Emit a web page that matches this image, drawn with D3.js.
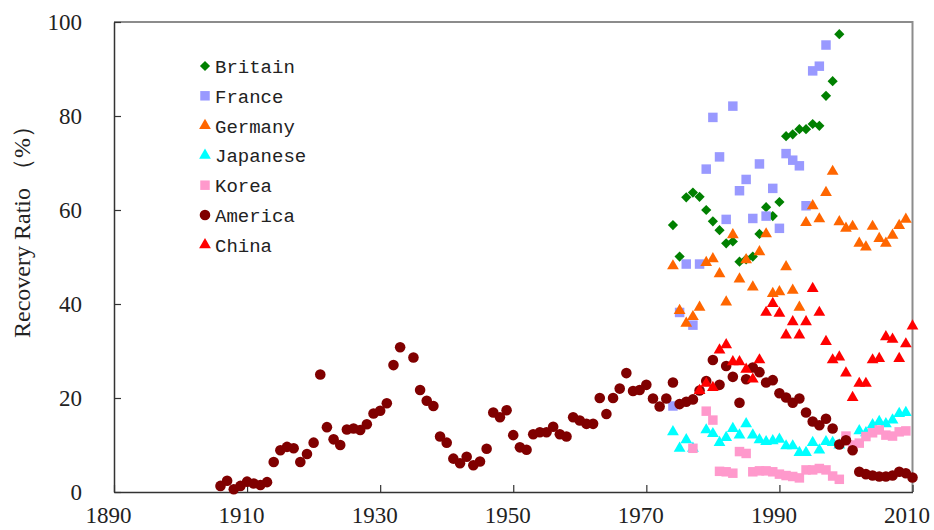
<!DOCTYPE html>
<html>
<head>
<meta charset="utf-8">
<script src="https://cdn.jsdelivr.net/npm/d3@7"></script>
<style>
  body { margin: 0; background: #fff; }
  svg { display: block; }
</style>
</head>
<body>
<svg id="chart" width="934" height="530"></svg>
<script>
// years and values, one pair of arrays per country
var britainYears = [1974,1975,1976,1977,1978,1979,1980,1981,1982,1983,1984,1985,1986,1987,1988,1989,1990,1991,1992,1993,1994,1995,1996,1997,1998,1999];
var britainVals  = [56.8,50.1,62.7,63.7,62.8,60.0,57.6,55.7,52.9,53.3,49.0,49.5,50.1,54.9,60.6,58.7,61.7,75.7,76.1,77.2,77.2,78.3,77.9,84.3,87.4,97.4];

var franceYears = [1974,1975,1976,1977,1978,1979,1980,1981,1982,1983,1984,1985,1986,1987,1988,1989,1990,1991,1992,1993,1994,1995,1996,1997];
var franceVals  = [18.3,38.2,48.5,35.5,48.5,68.7,79.7,71.3,58.0,82.1,64.1,66.5,58.2,69.8,58.7,64.6,56.1,72.0,70.6,69.4,60.9,89.6,90.6,95.1];

var germanyYears = [1974,1975,1976,1977,1978,1979,1980,1981,1982,1983,1984,1985,1986,1987,1988,1989,1990,1991,1992,1993,1994,1995,1996,1997,1998,1999,2000,2001,2002,2003,2004,2005,2006,2007,2008,2009];
var germanyVals  = [48.1,38.6,35.9,37.3,39.3,48.8,49.6,46.4,40.4,54.7,45.3,49.4,43.6,51.1,54.9,42.2,42.6,47.9,42.9,39.3,57.3,60.9,58.1,63.7,68.2,57.5,56.1,56.5,52.9,52.1,56.5,53.9,52.9,54.6,56.7,58.0];

var japanYears = [1974,1975,1976,1977,1979,1980,1981,1982,1983,1984,1985,1986,1987,1988,1989,1990,1991,1992,1993,1994,1995,1996,1997,1998,1999,2002,2003,2004,2005,2006,2007,2008,2009];
var japanVals  = [12.8,9.3,11.1,9.3,13.2,12.4,10.5,11.6,13.5,12.1,14.5,12.1,11.1,10.7,10.9,11.2,9.8,9.8,8.4,8.4,10.5,8.9,10.7,10.5,10.0,13.0,12.6,14.3,15.0,14.5,15.3,16.7,16.9];

var koreaYears = [1977,1979,1980,1981,1982,1983,1984,1985,1986,1987,1988,1989,1990,1991,1992,1993,1994,1995,1996,1997,1998,1999,2000,2001,2002,2003,2004,2005,2006,2007,2008,2009];
var koreaVals  = [9.3,17.2,15.3,4.4,4.3,4.0,8.6,8.2,4.3,4.5,4.5,4.3,3.8,3.5,3.3,3.0,4.7,4.7,5.0,4.7,3.4,2.7,11.9,10.0,10.4,11.8,12.6,13.2,12.1,11.9,12.8,13.0];

var americaYears = [1906,1907,1908,1909,1910,1911,1912,1913,1914,1915,1916,1917,1918,1919,1920,1921,1922,1923,1924,1925,1926,1927,1928,1929,1930,1931,1932,1933,1935,1936,1937,1938,1939,1940,1941,1942,1943,1944,1945,1946,1947,1948,1949,1950,1951,1952,1953,1954,1955,1956,1957,1958,1959,1960,1961,1962,1963,1964,1965,1966,1967,1968,1969,1970,1971,1972,1973,1974,1975,1976,1977,1978,1979,1980,1981,1982,1983,1984,1985,1986,1987,1988,1989,1990,1991,1992,1993,1994,1995,1996,1997,1998,1999,2000,2001,2002,2003,2004,2005,2006,2007,2008,2009,2010];
var americaVals  = [1.3,2.4,0.6,1.3,2.2,1.8,1.5,2.1,6.4,8.9,9.6,9.3,6.4,8.1,10.5,25.0,13.8,11.2,10.0,13.3,13.5,13.2,14.4,16.7,17.3,18.9,27.0,30.8,28.6,21.7,19.4,18.3,11.8,10.5,7.1,6.1,7.5,5.7,6.5,9.2,16.9,15.9,17.4,12.1,9.5,9.0,12.3,12.7,12.7,13.9,12.3,11.8,15.9,15.2,14.5,14.5,20.0,16.6,20.0,22.0,25.3,21.5,21.7,22.8,19.9,18.2,19.9,23.3,18.7,19.2,19.7,21.6,23.6,28.1,22.8,26.8,24.5,19.0,24.0,26.5,25.5,23.3,23.8,21.0,20.1,19.0,19.9,16.9,15.0,14.2,15.6,13.5,10.1,11.0,8.9,4.3,3.8,3.5,3.3,3.3,3.5,4.3,4.0,3.1];

var chinaYears = [1978,1979,1980,1981,1982,1983,1984,1985,1986,1987,1988,1989,1990,1991,1992,1993,1994,1995,1996,1997,1998,1999,2000,2001,2002,2003,2004,2005,2006,2007,2008,2009,2010];
var chinaVals  = [21.6,23.1,22.2,30.2,31.3,27.7,27.7,26.1,24.0,28.1,38.2,40.1,38.0,33.4,36.2,33.4,36.2,43.3,38.2,32.0,28.1,28.7,25.3,20.1,23.1,23.1,28.1,28.4,33.0,32.5,28.4,31.5,35.3];

var xTicks = [1890,1910,1930,1950,1970,1990,2010];
var yTicks = [0,20,40,60,80,100];

var series = [
    { name: "Britain",  years: britainYears, vals: britainVals, shape: "diamond",  color: "#008000" },
    { name: "France",   years: franceYears,  vals: franceVals,  shape: "square",   color: "#9999ff" },
    { name: "Germany",  years: germanyYears, vals: germanyVals, shape: "triangle", color: "#ff6600" },
    { name: "Japanese", years: japanYears,   vals: japanVals,   shape: "triangle", color: "#00ffff" },
    { name: "Korea",    years: koreaYears,   vals: koreaVals,   shape: "square",   color: "#ff99cc" },
    { name: "America",  years: americaYears, vals: americaVals, shape: "circle",   color: "#800000" },
    { name: "China",    years: chinaYears,   vals: chinaVals,   shape: "triangle", color: "#ff0000" }
];

var svg = d3.select("#chart");
var plotLeft = 114, plotRight = 912.5, plotTop = 22, plotBottom = 492;

var x = d3.scaleLinear().domain([1890, 2010]).range([plotLeft, plotRight]);
var y = d3.scaleLinear().domain([0, 100]).range([plotBottom, plotTop]);

function symbolFor(shape) {
    if (shape == "diamond") return d3.symbol().type(d3.symbolSquare).size(52)();
    if (shape == "square") return d3.symbol().type(d3.symbolSquare).size(90)();
    if (shape == "triangle") return d3.symbol().type(d3.symbolTriangle).size(60)();
    return d3.symbol().type(d3.symbolCircle).size(88)();
}
function rot(shape) { return shape == "diamond" ? " rotate(45)" : ""; }

// plot frame: grey on top and right, dark axes on left and bottom
svg.append("path")
    .attr("d", "M" + plotLeft + "," + plotTop + "H" + plotRight + "V" + plotBottom)
    .attr("fill", "none")
    .attr("stroke", "#8c8c8c")
    .attr("stroke-width", 2);

var tickFont = "'Liberation Serif', 'Times New Roman', serif";

var xAxis = svg.append("g")
    .attr("transform", "translate(0," + plotBottom + ")")
    .call(d3.axisBottom(x).tickValues(xTicks).tickFormat(d3.format("d")).tickSizeInner(-7).tickSizeOuter(0));
xAxis.selectAll("text")
    .attr("y", 15)
    .attr("dx", -6)
    .style("font-family", tickFont)
    .style("font-size", "23px")
    .attr("fill", "#222");

var yAxis = svg.append("g")
    .attr("transform", "translate(" + plotLeft + ",0)")
    .call(d3.axisLeft(y).tickValues(yTicks).tickSizeInner(-7).tickSizeOuter(0).tickPadding(32));
yAxis.selectAll("text")
    .style("font-family", tickFont)
    .style("font-size", "23px")
    .attr("fill", "#222");

[xAxis, yAxis].forEach(function(a) {
    a.select(".domain").attr("stroke", "#333").attr("stroke-width", 1.5);
    a.selectAll(".tick line").attr("stroke", "#333").attr("stroke-width", 1.2);
});

svg.append("text")
    .attr("transform", "translate(30,226) rotate(-90)")
    .attr("text-anchor", "middle")
    .style("font-family", tickFont)
    .style("font-size", "24px")
    .attr("fill", "#222")
    .text("Recovery Ratio （%）");

// points, drawn in legend order so China ends on top
series.forEach(function(s) {
    var pts = s.years.map(function(yr, i) { return { year: yr, val: s.vals[i] }; });
    svg.append("g").selectAll("path")
        .data(pts)
        .enter().append("path")
        .attr("d", symbolFor(s.shape))
        .attr("transform", function(d) { return "translate(" + x(d.year) + "," + y(d.val) + ")" + rot(s.shape); })
        .attr("fill", s.color);
});

// legend
var legend = svg.append("g").selectAll("g")
    .data(series)
    .enter().append("g")
    .attr("transform", function(d, i) { return "translate(205," + (66 + i * 29.8) + ")"; });

legend.append("path")
    .attr("d", function(d) { return symbolFor(d.shape); })
    .attr("transform", function(d) { return rot(d.shape).trim(); })
    .attr("fill", function(d) { return d.color; });

legend.append("text")
    .attr("x", 10)
    .attr("y", 7)
    .style("font-family", "'Liberation Mono', monospace")
    .style("font-size", "19px")
    .attr("fill", "#222")
    .text(function(d) { return d.name; });
</script>
</body>
</html>
